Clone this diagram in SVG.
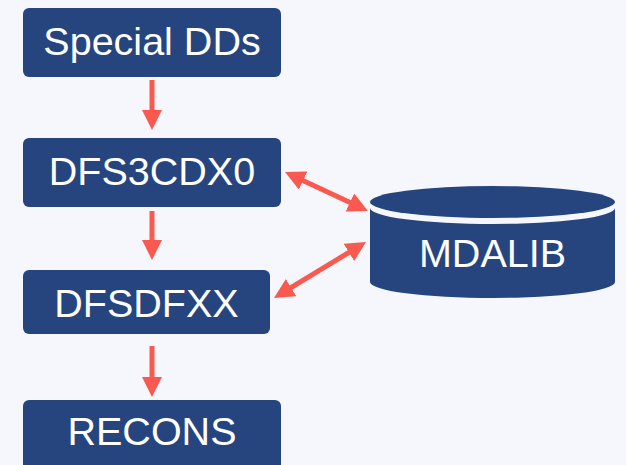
<svg xmlns="http://www.w3.org/2000/svg" width="626" height="465" viewBox="0 0 626 465">
<style>
.box{fill:#26457f;}
.lbl{fill:#ffffff;font-family:"Liberation Sans",Arial,sans-serif;font-size:39.5px;text-anchor:middle;}
.conn{stroke:#f9594f;stroke-width:5;fill:none;}
</style>
<defs>
<marker id="ah" markerUnits="userSpaceOnUse" markerWidth="20" markerHeight="20" refX="5" refY="10" orient="auto-start-reverse" viewBox="0 0 20 20">
<path d="M0,0 L20,10 L0,20 z" fill="#f9594f"/>
</marker>
</defs>
<rect width="626" height="465" fill="#f5f7fd"/>
<g id="connectors">
<line class="conn" x1="152" y1="80" x2="152" y2="115" marker-end="url(#ah)"/>
<line class="conn" x1="152" y1="211" x2="152" y2="245" marker-end="url(#ah)"/>
<line class="conn" x1="152" y1="346" x2="152" y2="382" marker-end="url(#ah)"/>
<line class="conn" x1="298.6" y1="178.4" x2="354.4" y2="204.6" marker-start="url(#ah)" marker-end="url(#ah)"/>
<line class="conn" x1="353.2" y1="249.8" x2="286.8" y2="290.2" marker-start="url(#ah)" marker-end="url(#ah)"/>
</g>
<g id="special-dds">
<rect class="box" x="23" y="8" width="258" height="69" rx="6"/>
<text class="lbl" x="152" y="55">Special DDs</text>
</g>
<g id="dfs3cdx0">
<rect class="box" x="23" y="138" width="258" height="69" rx="6"/>
<text class="lbl" x="152" y="185">DFS3CDX0</text>
</g>
<g id="dfsdfxx">
<rect class="box" x="23" y="270" width="247" height="64" rx="6"/>
<text class="lbl" x="146.5" y="317">DFSDFXX</text>
</g>
<g id="recons">
<rect class="box" x="23" y="400" width="258" height="70" rx="6"/>
<text class="lbl" x="152" y="445">RECONS</text>
</g>
<g id="mdalib">
<path class="box" d="M370,208 A122.5,16 0 0 0 615,208 L615,282 A122.5,16 0 0 1 370,282 Z"/>
<ellipse class="box" cx="492.5" cy="202" rx="122.5" ry="16"/>
<text class="lbl" x="492.5" y="267">MDALIB</text>
</g>
</svg>
